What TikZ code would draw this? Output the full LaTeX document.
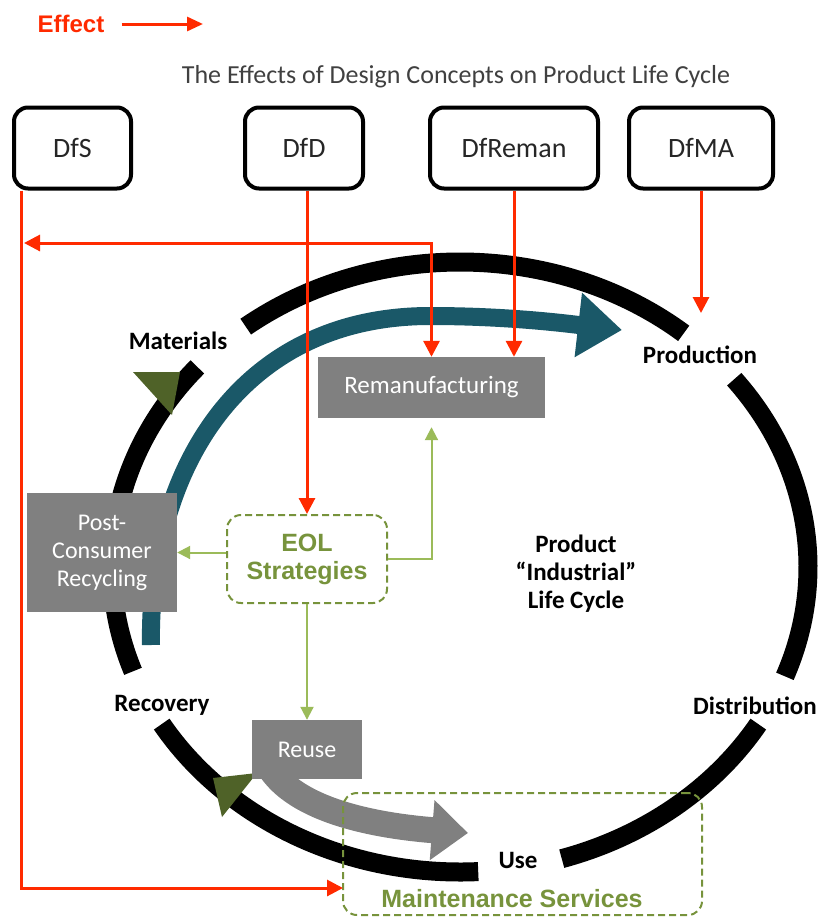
\documentclass[tikz,border=0pt]{standalone}
\usepackage{fontspec}
\setmainfont{Carlito}
\newfontfamily\arialf{Liberation Sans}
\usetikzlibrary{arrows.meta,calc}
\definecolor{effred}{HTML}{FF2A00}
\definecolor{tealc}{HTML}{1A5868}
\definecolor{olivec}{HTML}{4F6228}
\definecolor{dgreen}{HTML}{77933C}
\definecolor{lgreen}{HTML}{9BBB59}
\definecolor{boxgray}{HTML}{808080}
\definecolor{titlegray}{HTML}{404040}
\begin{document}
\begin{tikzpicture}[x=1pt,y=-1pt,
  dfbox/.style={draw=black, line width=4pt, rounded corners=14pt, minimum height=81pt,
    font=\fontsize{28}{30}\selectfont, text=black!85},
  graybox/.style={fill=boxgray, text=white, inner sep=0pt, align=center,
    font=\fontsize{24}{28}\selectfont},
  dashbox/.style={draw=dgreen, line width=2pt, dash pattern=on 7pt off 4pt, rounded corners=14pt, inner sep=0pt},
  lbl/.style={font=\bfseries\fontsize{25}{28}\selectfont, text=black, inner sep=0pt, align=center},
  greentxt/.style={font=\arialf\bfseries\fontsize{25}{28}\selectfont, text=dgreen, inner sep=0pt, align=center},
  ring/.style={draw=black, line width=19pt},
  redarr/.style={draw=effred, line width=3pt, -{Triangle[length=16pt,width=16pt]}},
  greenarr/.style={draw=lgreen, line width=2pt, -{Triangle[length=13pt,width=13pt]}}
]
\useasboundingbox (0,0) rectangle (821,918);

% --- life cycle ring ---
\coordinate (C) at (460,567);
\foreach \s/\e in {31/73, 87/149, 160/221, 232/310, 322/381}
  \draw[ring] ($(C)+(\s:348 and 305)$) arc[start angle=\s, end angle=\e, x radius=348, y radius=305];
\fill[olivec] (180,372) -- (133,372) -- (172,415) -- cycle;
\fill[olivec] (213,778) -- (257,773) -- (222,817) -- cycle;

% --- teal flow arrow ---
\draw[tealc, line width=18pt, -{Triangle[length=44pt,width=62pt]}]
  (151,645) .. controls (148,470) and (240,316) .. (430,316)
  .. controls (510,316) and (570,324) .. (622,330);

% --- gray reuse arrow ---
\draw[boxgray, line width=26pt, -{Triangle[length=36pt,width=58pt]}]
  (268,765) .. controls (295,812) and (380,826) .. (468,833);

% --- title and legend ---
\node[font=\arialf\bfseries\fontsize{24}{26}\selectfont, text=effred, inner sep=0pt] (effect) at (71,24) {Effect};
\coordinate (effend) at (203,24);
\draw[effred, line width=3pt, -{Triangle[length=16pt,width=14pt]}] ([xshift=17pt]effect.east) -- (effend);
\node[font=\fontsize{26}{28}\selectfont, text=titlegray, inner sep=0pt] (title) at (456,77)
  {The Effects of Design Concepts on Product Life Cycle};

% --- design concept boxes ---
\node[dfbox, minimum width=117pt] (dfs) at (72.5,148) {DfS};
\node[dfbox, minimum width=118pt] (dfd) at (304,148) {DfD};
\node[dfbox, minimum width=168pt] (dfreman) at (514,148) {DfReman};
\node[dfbox, minimum width=144pt] (dfma) at (701,148) {DfMA};

% --- process boxes ---
\node[graybox, minimum width=227pt, minimum height=61pt, font=\fontsize{25}{28}\selectfont] (reman) at (431.5,387.5) {Remanufacturing};
\node[graybox, minimum width=150pt, minimum height=119pt] (pcr) at (102,552.5) {Post-\\Consumer\\Recycling};
\node[dashbox, minimum width=160pt, minimum height=88pt] (eol) at (307,559) {};
\node[greentxt] (eoltxt) at (307,559) {EOL\\Strategies};
\node[graybox, minimum width=110pt, minimum height=59pt] (reuse) at (307,749.5) {Reuse};
\node[dashbox, minimum width=359pt, minimum height=122pt] (maint) at (522.5,854) {};
\node[greentxt] (mainttxt) at (512,899) {Maintenance Services};

% --- ring labels ---
\node[lbl] (materials) at (178,341) {Materials};
\node[lbl] (production) at (700,355) {Production};
\node[lbl] (recovery) at (162,705) {Recovery};
\node[lbl] (distribution) at (755,706) {Distribution};
\node[lbl] (use) at (518,860) {Use};
\node[lbl] (plc) at (576,574) {Product\\“Industrial”\\Life Cycle};

% --- red effect connectors ---
\coordinate (dfsdrop) at ($(dfs.south west)+(9,0)$);
\coordinate (msin) at (343,888);
\coordinate (hleft) at (24,243);
\coordinate (prodin) at (701,313);
\draw[redarr] (dfsdrop) |- (msin);
\draw[redarr, {Triangle[length=16pt,width=16pt]}-{Triangle[length=16pt,width=16pt]}] (hleft) -| (reman.north);
\draw[redarr] (dfd.south -| eol.north) -- (eol.north);
\draw[redarr] (dfreman.south) -- (dfreman.south |- reman.north);
\draw[redarr] (dfma.south) -- (prodin);

% --- green EOL connectors ---
\draw[greenarr] (eol.west |- pcr.east) -- (pcr.east);
\draw[greenarr, shorten >=9pt] (eol.east) -| (reman.south);
\draw[greenarr] (eol.south) -- (reuse.north);
\end{tikzpicture}
\end{document}
